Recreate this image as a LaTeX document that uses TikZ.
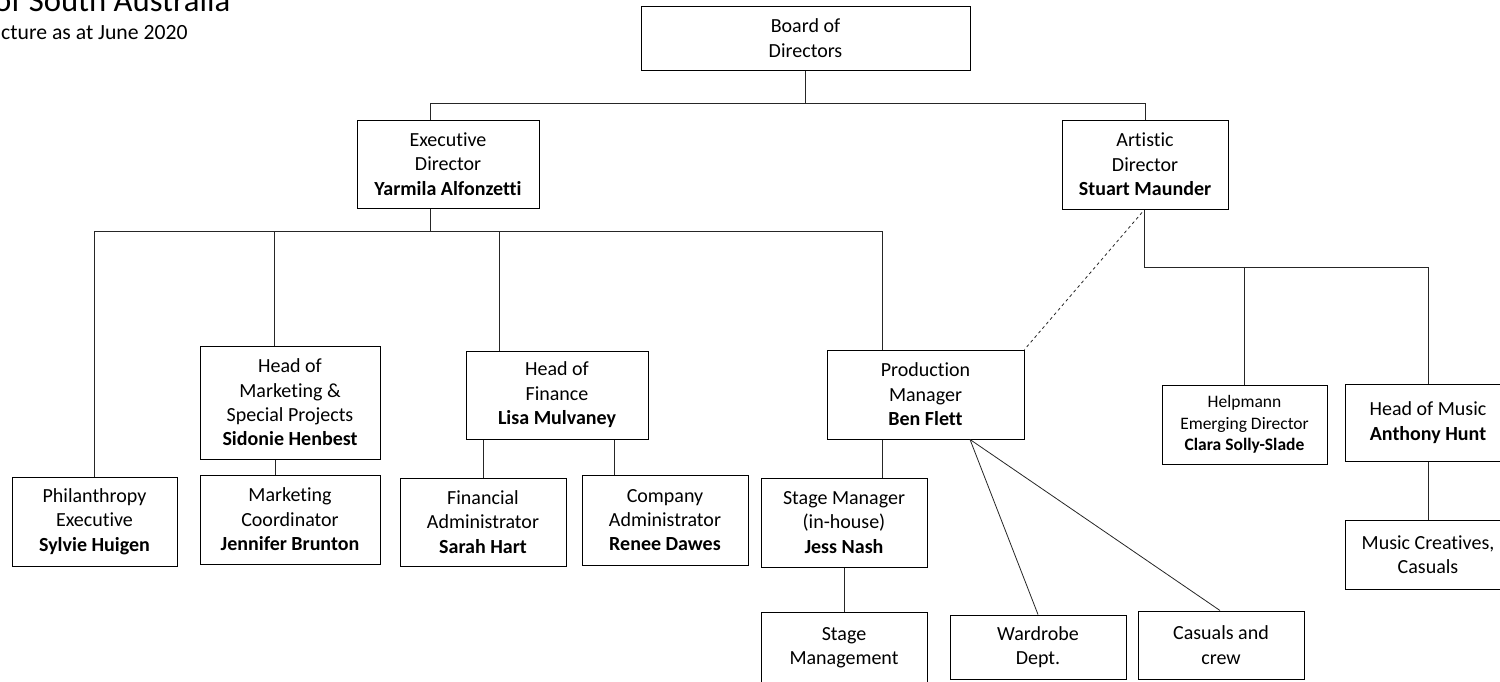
\documentclass[tikz,border=0pt]{standalone}
\usepackage{fontspec}
\setmainfont[Ligatures=NoCommon]{Carlito}
\usepackage{tikz}
\usetikzlibrary{positioning}
\tikzset{orgbox/.style={shape=rectangle,draw=black,line width=1pt,fill=white,inner sep=0pt,align=center,font=\fontsize{20}{24.4}\selectfont},
  orgline/.style={draw=black!85,line width=0.8pt}}

\begin{document}
\begin{tikzpicture}[x=1pt,y=-1pt]

\useasboundingbox (0,0) rectangle (1500,681);
\clip (0,0) rectangle (1500,681);

\path (-6,11) node (title) [anchor=base west,inner sep=0pt,font=\fontsize{32.7}{39}\selectfont]{of South Australia};

\path (1,39) node (subtitle) [anchor=base west,inner sep=0pt,font=\fontsize{21.7}{26}\selectfont]{cture as at June 2020};

\path (805.5,38) node (board) [orgbox,minimum width=329pt,minimum height=64pt]{Board of\\Directors};

\path (448,164) node (exec) [orgbox,minimum width=182pt,minimum height=88pt]{Executive\\Director\\\textbf{Yarmila Alfonzetti}};

\path (1145,164.5) node (artistic) [orgbox,minimum width=166pt,minimum height=89pt]{Artistic\\Director\\\textbf{Stuart Maunder}};

\path (94.5,521.5) node (philan) [orgbox,minimum width=165pt,minimum height=89pt]{Philanthropy\\Executive\\\textbf{Sylvie Huigen}};

\path (290,402.5) node (mkthead) [orgbox,minimum width=180pt,minimum height=113pt]{Head of\\Marketing \&\\Special Projects\\\textbf{Sidonie Henbest}};

\path (290,519.5) node (mktcoord) [orgbox,minimum width=180pt,minimum height=89pt]{Marketing\\Coordinator\\\textbf{Jennifer Brunton}};

\path (557,395) node (finhead) [orgbox,minimum width=182pt,minimum height=88pt]{Head of\\Finance\\\textbf{Lisa Mulvaney}};

\path (483,522) node (finadmin) [orgbox,minimum width=166pt,minimum height=88pt]{Financial\\Administrator\\\textbf{Sarah Hart}};

\path (665,520) node (compadmin) [orgbox,minimum width=166pt,minimum height=90pt]{Company\\Administrator\\\textbf{Renee Dawes}};

\path (925.5,394.5) node (prodmgr) [orgbox,minimum width=197pt,minimum height=89pt]{Production\\Manager\\\textbf{Ben Flett}};

\path (844,522.5) node (stagemgr) [orgbox,minimum width=166pt,minimum height=89pt]{Stage Manager\\(in-house)\\\textbf{Jess Nash}};

\path (844,647.5) node (stagemgmt) [orgbox,minimum width=166pt,minimum height=71pt]{Stage\\Management};

\path (1038,647) node (wardrobe) [orgbox,minimum width=176pt,minimum height=64pt]{Wardrobe\\Dept.};

\path (1221,645) node (casuals) [orgbox,minimum width=166pt,minimum height=68pt]{Casuals and\\crew};

\path (1244.5,424.5) node (helpmann) [orgbox,minimum width=165pt,minimum height=79pt,font=\fontsize{17.5}{21.5}\selectfont]{Helpmann\\Emerging Director\\\textbf{Clara Solly-Slade}};

\path (1428,422.5) node (musichead) [orgbox,minimum width=166pt,minimum height=77pt]{Head of Music\\\textbf{Anthony Hunt}};

\path (1428,554.5) node (musiccre) [orgbox,minimum width=166pt,minimum height=69pt]{Music Creatives,\\Casuals};

% bus levels
\coordinate (topbus) at (0,103);
\coordinate (execbus) at (0,231);
\coordinate (artbus) at (0,267);
\coordinate (execleg) at ([xshift=-18pt]exec.south);
\coordinate (pmleg) at ([xshift=-43.5pt]prodmgr.north);
\coordinate (pmfoot) at ([xshift=44.5pt]prodmgr.south);

\draw [orgline] (board.south) -- (board.south |- topbus);
\draw [orgline] ([xshift=-18pt]exec.north) |- (artistic.north |- topbus) -- (artistic.north);

\draw [orgline] (execleg) -- (execleg |- execbus);
\draw [orgline] (philan.north) |- (pmleg |- execbus) -- (pmleg);
\draw [orgline] ([xshift=-16pt]mkthead.north |- execbus) -- ([xshift=-16pt]mkthead.north);
\draw [orgline] ([xshift=-58pt]finhead.north |- execbus) -- ([xshift=-58pt]finhead.north);

\draw [orgline] ([xshift=-15pt]mkthead.south) -- ([xshift=-15pt]mktcoord.north);
\draw [orgline] (finadmin.north |- finhead.south) -- (finadmin.north);
\draw [orgline] ([xshift=-51pt]compadmin.north |- finhead.south) -- ([xshift=-51pt]compadmin.north);

\draw [orgline] (pmleg |- prodmgr.south) -- (pmleg |- stagemgr.north);
\draw [orgline] (stagemgr.south) -- (stagemgmt.north);
\draw [orgline] (pmfoot) -- (wardrobe.north);
\draw [orgline] (pmfoot) -- ([xshift=-1pt]casuals.north);

\draw [orgline,dashed] ([xshift=-3pt,yshift=-3pt]artistic.south) -- (prodmgr.north east);

\draw [orgline] ([xshift=-1pt]artistic.south) |- (musichead.north |- artbus) -- (musichead.north);
\draw [orgline] (helpmann.north |- artbus) -- (helpmann.north);
\draw [orgline] (musichead.south) -- (musiccre.north);

\end{tikzpicture}
\end{document}
